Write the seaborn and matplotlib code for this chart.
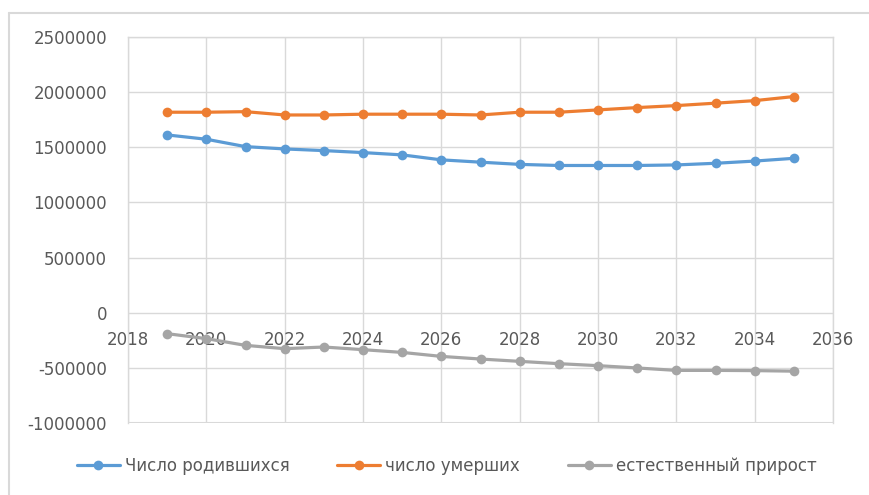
import pandas as pd
import matplotlib
matplotlib.use("Agg")
import matplotlib.pyplot as plt
from matplotlib.lines import Line2D
import seaborn as sns

years = list(range(2019, 2036))
births = [1612000, 1573000, 1506000, 1485000, 1470000, 1452000, 1431000, 1386000,
          1365000, 1345000, 1335000, 1335000, 1335000, 1340000, 1355000, 1375000, 1400000]
deaths = [1818000, 1818000, 1823000, 1793000, 1793000, 1800000, 1800000, 1800000,
          1793000, 1818000, 1818000, 1839000, 1860000, 1878000, 1900000, 1923000, 1960000]
natural = [-190000, -235000, -296000, -326000, -311000, -335000, -360000, -396000,
           -420000, -441000, -462000, -480000, -501000, -523000, -523000, -525000, -530000]

series_names = ["Число родившихся", "число умерших", "естественный прирост"]
colors = ["#5B9BD5", "#ED7D31", "#A5A5A5"]
xticks = list(range(2018, 2037, 2))
yticks = [-1000000, -500000, 0, 500000, 1000000, 1500000, 2000000, 2500000]

df = pd.DataFrame({"year": years,
                   series_names[0]: births,
                   series_names[1]: deaths,
                   series_names[2]: natural})

sns.set_style("white")
plt.rcParams['font.family'] = ['DejaVu Sans']
text_color = "#595959"
grid_color = "#d9d9d9"

fig = plt.figure(figsize=(8.69, 4.95), dpi=100)
ax = fig.add_axes([128 / 869, 72 / 495, 705 / 869, 386 / 495])

for name, c in zip(series_names, colors):
    sns.lineplot(data=df, x="year", y=name, ax=ax, color=c, linewidth=2.3,
                 marker="o", markersize=7, markeredgewidth=0, label=name)

ax.set_xlim(2018, 2036)
ax.set_ylim(-1000000, 2500000)
ax.set_xticks(xticks)
ax.set_yticks(yticks)
ax.set_yticklabels([str(v) for v in yticks])
ax.set_xlabel("")
ax.set_ylabel("")

ax.grid(True, color=grid_color, linewidth=1)
ax.set_axisbelow(True)
for s in ["top", "right", "left"]:
    ax.spines[s].set_color(grid_color)
    ax.spines[s].set_linewidth(1)
ax.spines["bottom"].set_position(("data", 0))
ax.spines["bottom"].set_visible(False)
# close the plot-area box at the bottom edge
ax.axhline(-1000000, color=grid_color, linewidth=1.5, zorder=0)

ax.tick_params(axis="y", length=0, pad=15, labelsize=12, labelcolor=text_color)
ax.tick_params(axis="x", length=0, pad=13, labelsize=12, labelcolor=text_color)

ax.get_legend().remove()
handles, labels = ax.get_legend_handles_labels()
leg = fig.legend(handles, labels, loc="center", bbox_to_anchor=(0.514, 29 / 495),
                 ncol=3, frameon=False, fontsize=12, handlelength=2.6,
                 columnspacing=2.85, handletextpad=0.3)
for t in leg.get_texts():
    t.set_color(text_color)

# outer chart border
fig.add_artist(Line2D([9 / 869, 1], [1 - 13 / 495, 1 - 13 / 495],
                      transform=fig.transFigure, color=grid_color, linewidth=1.5))
fig.add_artist(Line2D([9 / 869, 9 / 869], [0, 1 - 13 / 495],
                      transform=fig.transFigure, color=grid_color, linewidth=1.5))

fig.savefig("out.png", dpi=100)
